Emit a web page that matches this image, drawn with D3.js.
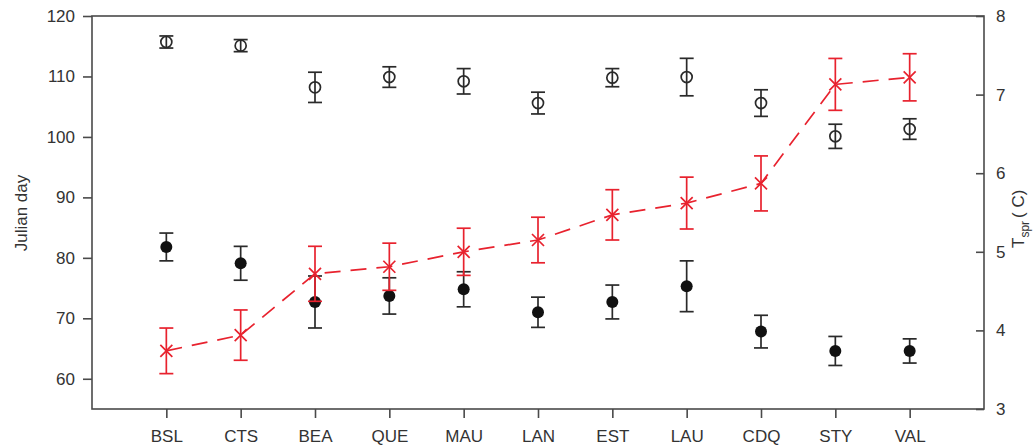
<!DOCTYPE html>
<html>
<head>
<meta charset="utf-8">
<script src="https://cdn.jsdelivr.net/npm/d3@7"></script>
<style>
  html, body { margin: 0; padding: 0; background: #fff; }
  svg { display: block; font-family: "Liberation Sans", Arial, Helvetica, sans-serif; }
</style>
</head>
<body>
<svg id="chart" width="1035" height="448"></svg>
<script>
// ---- data ----
const sites = ["BSL","CTS","BEA","QUE","MAU","LAN","EST","LAU","CDQ","STY","VAL"];
// open circles (Julian day, upper series)
const openMean = [115.7, 115.1, 108.2, 109.9, 109.2, 105.6, 109.8, 109.9, 105.6, 100.1, 101.3];
const openErr  = [1.0, 1.0, 2.5, 1.7, 2.1, 1.8, 1.5, 3.1, 2.2, 2.0, 1.7];
// filled circles (Julian day, lower series)
const fillMean = [81.8, 79.1, 72.7, 73.7, 74.8, 71.0, 72.7, 75.3, 67.8, 64.6, 64.6];
const fillErr  = [2.3, 2.8, 4.3, 3.0, 2.9, 2.5, 2.8, 4.2, 2.7, 2.4, 2.0];
// red series (temperature, right axis)
const tMean = [3.74, 3.94, 4.72, 4.81, 5.00, 5.15, 5.47, 5.62, 5.87, 7.13, 7.22];
const tErr  = [0.29, 0.32, 0.35, 0.30, 0.30, 0.29, 0.32, 0.33, 0.35, 0.33, 0.30];
const leftTicks = [60, 70, 80, 90, 100, 110, 120];
const rightTicks = [3, 4, 5, 6, 7, 8];

// ---- layout ----
const svg = d3.select("#chart");
const L = 92, R = 984, T = 16, B = 409;
const axisColor = "#4a4a4a", textColor = "#333";
const red = "#e8222e";

const x = d3.scalePoint().domain(sites).range([L, R]).padding(1);
const yL = d3.scaleLinear().domain([55, 120]).range([B, T]);
const yR = d3.scaleLinear().domain([3, 8]).range([B, T]);

// frame
svg.append("rect").attr("x", L).attr("y", T).attr("width", R - L).attr("height", B - T)
  .attr("fill", "none").attr("stroke", axisColor).attr("stroke-width", 1.6);

// left axis
const gL = svg.append("g").attr("transform", `translate(${L},0)`)
  .call(d3.axisLeft(yL).tickValues(leftTicks).tickSize(9).tickPadding(8));
// right axis (ticks inward)
const gR = svg.append("g").attr("transform", `translate(${R},0)`)
  .call(d3.axisRight(yR).tickValues(rightTicks).tickFormat(d3.format("d")).tickSize(-8).tickPadding(12));
// bottom axis
const gB = svg.append("g").attr("transform", `translate(0,${B})`)
  .call(d3.axisBottom(x).tickSize(9).tickPadding(12));

[gL, gR, gB].forEach(g => {
  g.select(".domain").remove();
  g.selectAll(".tick line").attr("stroke", axisColor).attr("stroke-width", 1.6);
  g.selectAll(".tick text").attr("fill", textColor).style("font-size", "17px")
    .style("font-family", "'Liberation Sans', Arial, Helvetica, sans-serif");
});

// axis titles
svg.append("text")
  .attr("transform", `translate(27,213) rotate(-90)`)
  .attr("text-anchor", "middle").attr("fill", textColor).style("font-size", "17px")
  .text("Julian day");
const rt = svg.append("text")
  .attr("transform", `translate(1024,248) rotate(-90)`)
  .attr("text-anchor", "start").attr("fill", textColor).style("font-size", "17px");
rt.append("tspan").text("T");
rt.append("tspan").attr("dy", 5).style("font-size", "12px").text("spr");
rt.append("tspan").attr("dy", -5).attr("dx", 3).text("( C)");

// error bar helper
function errBars(g, means, errs, yScale, color, cap) {
  const d = sites.map((s, i) => ({ s, m: means[i], e: errs[i] }));
  const gg = g.append("g").attr("stroke", color).attr("stroke-width", 1.7).attr("fill", "none");
  gg.selectAll("line.v").data(d).join("line").attr("class", "v")
    .attr("x1", d => x(d.s)).attr("x2", d => x(d.s))
    .attr("y1", d => yScale(d.m + d.e)).attr("y2", d => yScale(d.m - d.e));
  gg.selectAll("line.t").data(d).join("line").attr("class", "t")
    .attr("x1", d => x(d.s) - cap).attr("x2", d => x(d.s) + cap)
    .attr("y1", d => yScale(d.m + d.e)).attr("y2", d => yScale(d.m + d.e));
  gg.selectAll("line.b").data(d).join("line").attr("class", "b")
    .attr("x1", d => x(d.s) - cap).attr("x2", d => x(d.s) + cap)
    .attr("y1", d => yScale(d.m - d.e)).attr("y2", d => yScale(d.m - d.e));
}

const plot = svg.append("g");
// open circles
errBars(plot, openMean, openErr, yL, "#2a2a2a", 7);
plot.append("g").selectAll("circle").data(openMean).join("circle")
  .attr("cx", (d, i) => x(sites[i])).attr("cy", d => yL(d)).attr("r", 5.5)
  .attr("fill", "none").attr("stroke", "#2a2a2a").attr("stroke-width", 1.7);
// filled circles
errBars(plot, fillMean, fillErr, yL, "#2a2a2a", 7);
plot.append("g").selectAll("circle").data(fillMean).join("circle")
  .attr("cx", (d, i) => x(sites[i])).attr("cy", d => yL(d)).attr("r", 6)
  .attr("fill", "#111");

// red series
const line = d3.line().x((d, i) => x(sites[i])).y(d => yR(d));
plot.append("path").datum(tMean).attr("d", line)
  .attr("fill", "none").attr("stroke", red).attr("stroke-width", 1.7)
  .attr("stroke-dasharray", "16,10");
errBars(plot, tMean, tErr, yR, red, 7);
const xs = 6;
plot.append("g").selectAll("path.x").data(tMean).join("path").attr("class", "x")
  .attr("d", (d, i) => {
    const cx = x(sites[i]), cy = yR(d);
    return `M${cx - xs},${cy - xs}L${cx + xs},${cy + xs}M${cx - xs},${cy + xs}L${cx + xs},${cy - xs}`;
  })
  .attr("stroke", red).attr("stroke-width", 1.7).attr("fill", "none");
</script>
</body>
</html>
